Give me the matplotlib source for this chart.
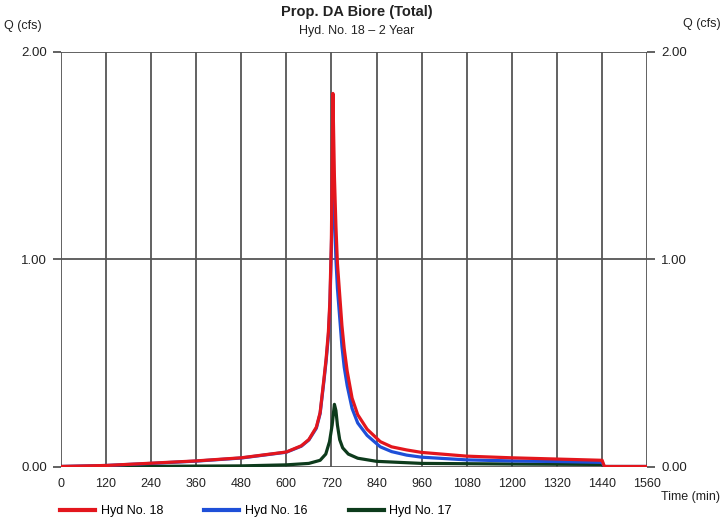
import matplotlib
matplotlib.use("Agg")
import matplotlib.pyplot as plt
from matplotlib.lines import Line2D

plt.rcParams['font.family'] = ['Liberation Sans', 'DejaVu Sans']

title = "Prop. DA Biore (Total)"
subtitle = "Hyd. No. 18 \u2013 2 Year"
series_names = ["Hyd No. 18", "Hyd No. 16", "Hyd No. 17"]
series_colors = ["#e3161d", "#1e4fd8", "#0d3b1c"]

# Hyd No. 18 (red)
t18 = [0, 120, 240, 360, 480, 600, 640, 660, 680, 690, 700, 706, 712, 716, 720, 724,
       728, 732, 736, 742, 748, 754, 762, 775, 790, 815, 850, 880, 920, 960,
       1080, 1200, 1320, 1440, 1446, 1560]
q18 = [0.0, 0.005, 0.016, 0.027, 0.042, 0.07, 0.10, 0.13, 0.19, 0.26, 0.42, 0.52, 0.65, 0.80, 1.10, 1.80,
       1.40, 1.16, 0.98, 0.83, 0.68, 0.57, 0.46, 0.33, 0.25, 0.18, 0.12, 0.095, 0.08, 0.068,
       0.05, 0.042, 0.036, 0.03, 0.0, 0.0]

# Hyd No. 16 (blue)
t16 = [0, 120, 240, 360, 480, 600, 640, 660, 680, 690, 700, 706, 712, 716, 720, 724,
       728, 732, 736, 742, 748, 754, 762, 775, 790, 815, 850, 880, 920, 960,
       1080, 1200, 1320, 1440, 1446, 1560]
q16 = [0.0, 0.005, 0.015, 0.026, 0.041, 0.069, 0.098, 0.128, 0.185, 0.255, 0.41, 0.51, 0.63, 0.78, 1.05, 1.53,
       1.22, 1.00, 0.86, 0.72, 0.58, 0.48, 0.39, 0.28, 0.21, 0.15, 0.095, 0.072, 0.055, 0.045,
       0.032, 0.027, 0.024, 0.02, 0.0, 0.0]

# Hyd No. 17 (green)
t17 = [0, 240, 480, 600, 660, 690, 705, 715, 722, 728, 732, 736, 742, 750, 765, 790,
       840, 960, 1200, 1440, 1446, 1560]
q17 = [0.0, 0.001, 0.003, 0.008, 0.015, 0.03, 0.06, 0.12, 0.20, 0.30, 0.27, 0.20, 0.13, 0.09, 0.06, 0.04,
       0.025, 0.015, 0.012, 0.01, 0.0, 0.0]

xticks = list(range(0, 1561, 120))
yticks = [0.0, 1.0, 2.0]
ytick_labels = ["0.00", "1.00", "2.00"]

fig = plt.figure(figsize=(7.24, 5.23), dpi=100)
ax = fig.add_axes([0.0838, 0.108, 0.8102, 0.7926])

ax.plot(t17, q17, color=series_colors[2], lw=2.3, zorder=3)
ax.plot(t16, q16, color=series_colors[1], lw=2.3, zorder=4)
ax.plot(t18, q18, color=series_colors[0], lw=2.3, zorder=5)

ax.set_xlim(0, 1560)
ax.set_ylim(0, 2.0)
ax.set_xticks(xticks)
ax.set_xticklabels([str(v) for v in xticks])
ax.set_yticks(yticks)
ax.set_yticklabels(ytick_labels)
for s in ax.spines.values():
    s.set_visible(False)
ax.grid(True, color="#555555", lw=1.3, zorder=1)
ax.tick_params(axis='x', length=0, labelsize=9, pad=8)
ax.tick_params(axis='y', length=6, width=1.3, color="#555555", labelsize=9.5, pad=4,
               left=True, right=True, labelleft=True, labelright=True)
for lbl in ax.get_xticklabels() + ax.get_yticklabels():
    lbl.set_color("#222222")

fig.text(0.493, 0.977, title, ha='center', va='center', fontsize=10.5, fontweight='bold', color="#222222")
fig.text(0.493, 0.941, subtitle, ha='center', va='center', fontsize=9, color="#222222")
fig.text(0.005, 0.951, "Q (cfs)", ha='left', va='center', fontsize=9, color="#222222")
fig.text(0.995, 0.955, "Q (cfs)", ha='right', va='center', fontsize=9, color="#222222")
fig.text(0.995, 0.050, "Time (min)", ha='right', va='center', fontsize=9, color="#222222")

handles = [Line2D([0], [0], color=c, lw=3) for c in series_colors]
fig.legend(handles, series_names, loc='center left', bbox_to_anchor=(0.083, 0.022), ncol=3,
           frameon=False, fontsize=9, handlelength=2.8, columnspacing=3.3, handletextpad=0.45,
           borderpad=0, borderaxespad=0)

fig.savefig("out.png", dpi=100, facecolor="white")
